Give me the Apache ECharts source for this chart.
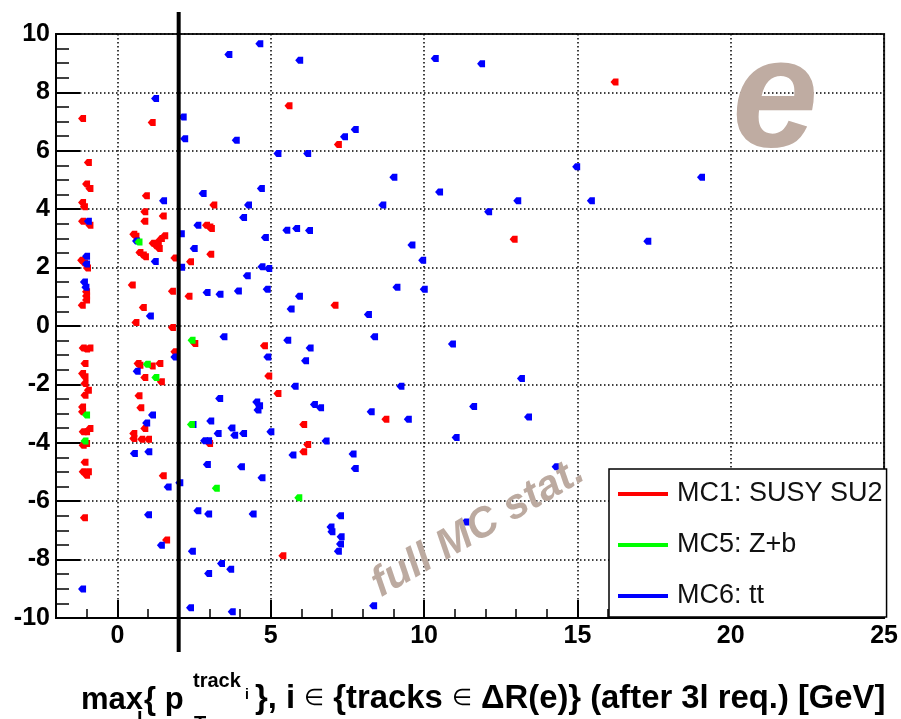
<!DOCTYPE html>
<html>
<head>
<meta charset="utf-8">
<script src="https://cdn.jsdelivr.net/npm/echarts@6/dist/echarts.min.js"></script>
<style>
html,body{margin:0;padding:0;background:#fff;}
#chart{width:901px;height:719px;}
</style>
</head>
<body>
<div id="chart"></div>
<script>
// ---- data (x: max track pT [GeV], y: second variable) ----
const seriesNames = ['MC1: SUSY SU2', 'MC5: Z+b', 'MC6: tt'];
const seriesColors = ['#ff0000', '#00ff00', '#0000ff'];

const susyPoints = [
  [-1.15, 7.11], [1.12, 6.97], [5.58, 7.54], [-0.96, 5.60], [-1.02, 4.86], [-0.91, 4.71],
  [-1.15, 4.23], [-1.09, 4.08], [-1.15, 3.59], [-0.91, 3.45], [0.93, 4.46], [0.88, 3.91],
  [0.88, 3.59], [1.48, 3.77], [3.13, 4.14], [0.52, 3.14], [0.59, 3.07], [1.15, 2.83],
  [1.32, 2.88], [1.42, 3.00], [1.53, 3.09], [1.35, 2.65], [1.25, 2.75], [2.89, 3.45],
  [3.00, 3.39], [3.05, 3.34], [3.03, 2.46], [0.72, 2.52], [0.83, 2.43], [0.90, 2.37],
  [2.37, 2.20], [1.86, 2.33], [-1.18, 2.25], [-1.09, 2.16], [-0.99, 1.99], [-1.02, 1.17],
  [-1.02, 1.03], [-1.02, 0.89], [0.47, 1.40], [1.78, 1.19], [2.32, 1.02], [-1.16, 0.71],
  [0.83, 0.63], [0.59, 0.12], [1.78, -0.05], [2.51, -0.60], [1.86, -0.88], [-1.13, -0.75],
  [-1.02, -0.79], [-0.91, -0.75], [-1.07, -1.28], [-1.15, -1.63], [-1.07, -1.74], [-1.07, -1.97],
  [-0.96, -2.20], [-1.07, -2.37], [-1.15, -2.77], [-1.15, -2.94], [-0.91, -3.51], [-1.02, -3.62],
  [-1.13, -3.62], [-1.02, -4.02], [-1.13, -4.08], [-1.07, -4.67], [-1.13, -4.99], [-0.96, -4.99],
  [-1.02, -5.11], [-1.09, -6.57], [0.66, -1.28], [0.72, -1.34], [1.12, -1.37], [1.37, -1.28],
  [0.88, -1.76], [1.42, -1.91], [0.69, -2.39], [0.75, -2.80], [0.88, -3.51], [0.52, -3.68],
  [0.52, -3.85], [0.78, -3.88], [1.00, -3.88], [1.48, -5.13], [1.59, -7.33], [2.99, -4.02],
  [4.78, -0.68], [4.92, -1.71], [5.22, -2.31], [5.38, -7.87], [6.06, -3.37], [6.19, -4.06],
  [6.06, -4.31], [8.74, -3.19], [7.19, 6.22], [12.92, 2.97], [7.08, 0.71], [16.21, 8.36]
];

const zbPoints = [
  [0.69, 2.88], [2.42, -0.49], [0.96, -1.31], [1.24, -1.76], [-1.02, -3.05], [-1.07, -3.94],
  [2.40, -3.37], [3.21, -5.56], [5.90, -5.88]
];

const ttPoints = [
  [3.62, 9.30], [4.63, 9.67], [5.93, 9.10], [1.23, 7.79], [2.13, 7.16], [2.18, 6.41],
  [3.86, 6.36], [5.22, 5.91], [4.68, 4.71], [2.78, 4.54], [1.49, 4.29], [4.26, 4.14],
  [4.10, 3.72], [2.07, 3.16], [2.61, 3.45], [5.51, 3.28], [5.83, 3.34], [4.81, 3.03],
  [2.49, 2.65], [1.22, 2.21], [2.08, 2.01], [4.70, 2.03], [4.92, 1.97], [4.22, 1.72],
  [4.87, 1.26], [2.91, 1.15], [3.33, 1.09], [3.93, 1.20], [5.92, 1.02], [5.65, 0.58],
  [1.06, 0.34], [-0.96, 3.59], [-1.02, 2.39], [-1.02, 2.12], [-1.09, 1.51], [-1.04, 1.33],
  [0.61, 2.91], [3.46, -0.37], [5.54, -0.49], [4.89, -1.06], [1.86, -1.06], [0.63, -1.55],
  [5.78, -2.06], [3.32, -2.48], [4.53, -2.60], [4.62, -2.73], [4.57, -2.88], [1.13, -3.05],
  [0.94, -3.32], [2.45, -3.37], [3.03, -3.25], [3.72, -3.49], [3.81, -3.74], [3.27, -3.68],
  [4.10, -3.68], [4.99, -3.62], [2.83, -3.93], [2.96, -3.93], [0.54, -4.37], [1.01, -4.31],
  [5.71, -4.42], [2.92, -4.74], [4.03, -4.82], [4.70, -5.20], [2.02, -5.37], [1.64, -5.51],
  [2.61, -6.33], [2.96, -6.44], [4.41, -6.44], [1.00, -6.46], [1.42, -7.51], [2.43, -7.71],
  [3.38, -8.13], [3.68, -8.33], [2.96, -8.48], [-1.15, -9.01], [2.37, -9.65], [3.73, -9.79],
  [8.37, -0.37], [6.27, -0.75], [6.12, -1.19], [10.91, -0.62], [9.23, -2.06], [13.16, -1.80],
  [6.41, -2.69], [6.61, -2.80], [8.26, -2.94], [9.47, -3.19], [11.60, -2.76], [13.39, -3.12],
  [11.03, -3.82], [6.79, -3.94], [7.67, -4.38], [7.74, -4.88], [14.29, -4.82], [7.26, -6.50],
  [6.95, -6.88], [6.98, -7.05], [7.28, -7.22], [7.26, -7.47], [7.19, -7.71], [11.35, -6.71],
  [8.34, -9.58], [10.35, 9.16], [11.86, 8.98], [7.74, 6.73], [7.39, 6.48], [6.19, 5.91],
  [9.00, 5.09], [10.49, 4.59], [14.96, 5.45], [8.64, 4.14], [12.09, 3.91], [13.04, 4.29],
  [15.44, 4.29], [6.25, 3.27], [9.59, 2.77], [9.94, 2.25], [9.10, 1.33], [9.99, 1.26],
  [8.17, 0.39], [19.03, 5.09], [17.28, 2.90]
];

const xRange = [-2, 25];
const yRange = [-10, 10];
const cutX = 2;           // vertical selection cut line
const yTickStep = 2;

// ---- chart ----
const FONT = '"Liberation Sans", Arial, Helvetica, sans-serif';
const markerPath = 'path://M0,3.5 L3,0 L8,0 L8,7 L3,7 Z';
const chart = echarts.init(document.getElementById('chart'), null, {renderer: 'canvas'});

function scatter(name, data, color, z) {
  return {
    name: name, type: 'scatter', data: data,
    symbol: markerPath, symbolSize: [8, 7],
    itemStyle: {color: color, opacity: 1},
    z: z, silent: true, animation: false
  };
}

const option = {
  backgroundColor: '#fff',
  animation: false,
  grid: {left: 56, right: 16, top: 34, bottom: 101, show: true,
         borderColor: '#222', borderWidth: 2, backgroundColor: 'transparent'},
  xAxis: [{
    type: 'value', min: xRange[0], max: xRange[1], splitNumber: 5,
    axisLine: {show: true, onZero: false, lineStyle: {color: '#000', width: 2}},
    axisTick: {show: true, inside: true, length: 18, lineStyle: {color: '#000', width: 2}},
    axisLabel: {show: true, showMinLabel: false, color: '#000', fontFamily: FONT,
                fontWeight: 'bold', fontSize: 25, margin: 6},
    splitLine: {show: true, lineStyle: {color: '#000', width: 1.5, type: [1.5, 2.5]}}
  }, {
    type: 'value', min: xRange[0], max: xRange[1], interval: 1, position: 'bottom',
    axisLine: {show: false, onZero: false},
    axisTick: {show: true, inside: true, length: 9, lineStyle: {color: '#000', width: 1.5}},
    axisLabel: {show: false}, splitLine: {show: false}
  }],
  yAxis: {
    type: 'value', min: yRange[0], max: yRange[1], interval: yTickStep,
    axisLine: {show: true, onZero: false, lineStyle: {color: '#000', width: 2}},
    axisTick: {show: true, inside: true, length: 24, lineStyle: {color: '#000', width: 2}},
    minorTick: {show: true, splitNumber: 4, length: 13, lineStyle: {color: '#000', width: 1.5}},
    axisLabel: {show: true, color: '#000', fontFamily: FONT, fontWeight: 'bold', fontSize: 25, margin: 6},
    splitLine: {show: true, lineStyle: {color: '#000', width: 1.5, type: [1.5, 2.5]}}
  },
  legend: {
    show: true, orient: 'vertical', left: 609, top: 469, width: 278,
    data: seriesNames, icon: 'rect', itemWidth: 50, itemHeight: 4, itemGap: 21,
    padding: [10, 4, 6, 9], borderColor: '#000', borderWidth: 1.5, backgroundColor: '#fff',
    textStyle: {color: '#111', fontFamily: FONT, fontSize: 27, lineHeight: 30, padding: [0, 0, 0, 4]},
    selectedMode: false, z: 10
  },
  series: [
    scatter(seriesNames[0], susyPoints, seriesColors[0], 2),
    scatter(seriesNames[2], ttPoints, seriesColors[2], 3),
    scatter(seriesNames[1], zbPoints, seriesColors[1], 4),
    {
      type: 'custom', name: 'cut', data: [[cutX, 0]], clip: false, silent: true, z: 6,
      encode: {x: 0, y: 1},
      renderItem: function (params, api) {
        const top = api.coord([api.value(0), yRange[1]]);
        const bot = api.coord([api.value(0), yRange[0]]);
        return {type: 'line', shape: {x1: top[0], y1: top[1] - 22, x2: bot[0], y2: bot[1] + 34},
                style: {stroke: '#000', lineWidth: 4}};
      }
    }
  ],
  graphic: [
    {type: 'text', x: 775, y: 103, z: 5, silent: true,
     style: {text: 'e', font: 'italic bold 155px ' + FONT, fill: '#bfaca2', align: 'center', verticalAlign: 'middle'}},
    {type: 'text', x: 478, y: 528, rotation: Math.PI / 6, z: 20, silent: true,
     style: {text: 'full MC stat.', font: 'italic bold 42px ' + FONT, fill: '#bcaaa0', align: 'center', verticalAlign: 'middle'}},
    // x-axis title (with sub/superscripts)
    {type: 'text', x: 81, y: 700, silent: true,
     style: {text: 'max', font: 'bold 31px ' + FONT, fill: '#000', align: 'left', verticalAlign: 'middle'}},
    {type: 'text', x: 137, y: 716, silent: true,
     style: {text: 'i', font: 'bold 20px ' + FONT, fill: '#000', align: 'left', verticalAlign: 'middle'}},
    {type: 'text', x: 144, y: 700, silent: true,
     style: {text: '{ p', font: 'bold 31px ' + FONT, fill: '#000', align: 'left', verticalAlign: 'middle'}},
    {type: 'text', x: 194, y: 724, silent: true,
     style: {text: 'T', font: 'bold 20px ' + FONT, fill: '#000', align: 'left', verticalAlign: 'middle'}},
    {type: 'text', x: 193, y: 681, silent: true,
     style: {text: 'track', font: 'bold 20px ' + FONT, fill: '#000', align: 'left', verticalAlign: 'middle'}},
    {type: 'text', x: 245, y: 695, silent: true,
     style: {text: 'i', font: 'bold 14px ' + FONT, fill: '#000', align: 'left', verticalAlign: 'middle'}},
    {type: 'text', x: 255, y: 699, silent: true,
     style: {text: '}, i {s|\u2208} {tracks {s|\u2208} \u0394R(e)} (after 3l req.) [GeV]',
             font: 'bold 32.8px ' + FONT, fill: '#000', align: 'left', verticalAlign: 'middle',
             rich: {s: {fontFamily: FONT, fontSize: 23, fontWeight: 'normal', fill: '#000'}}}}
  ]
};
chart.setOption(option);
</script>
</body>
</html>
